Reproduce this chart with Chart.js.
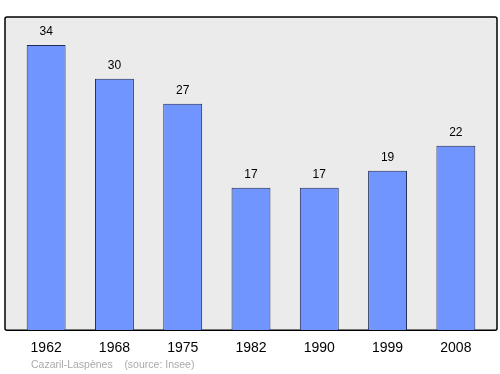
<!DOCTYPE html>
<html>
<head>
    <meta charset="utf-8">
    <title>Cazaril-Laspènes</title>
    <script src="https://cdn.jsdelivr.net/npm/chart.js"></script>
    <style>
        body { margin: 0; background: #fff; }
        #wrap { position: relative; width: 500px; height: 374px; }
        #footer {
            position: absolute; left: 31px; top: 358px;
            font: 10.5px "Liberation Sans", Arial, sans-serif; color: #aaaaaa;
            white-space: pre;
        }
    </style>
</head>
<body>
    <div id="wrap">
        <canvas id="barChart" width="500" height="374"></canvas>
        <div id="footer">Cazaril-Laspènes    (source: Insee)</div>
    </div>
    <script>
        // données
        const years = ["1962", "1968", "1975", "1982", "1990", "1999", "2008"];
        const population = [34, 30, 27, 17, 17, 19, 22];

        // fond gris + cadre
        const framePlugin = {
            id: "frame",
            beforeDraw(chart) {
                const a = chart.chartArea;
                const c = chart.ctx;
                c.save();
                c.beginPath();
                c.roundRect(a.left - 7, a.top, a.width + 14, a.bottom - a.top, 2);
                c.fillStyle = "#ebebeb";
                c.fill();
                c.lineWidth = 1.5;
                c.strokeStyle = "#000";
                c.stroke();
                c.restore();
            },
        };

        // valeurs au-dessus des barres
        const valuePlugin = {
            id: "values",
            afterDatasetsDraw(chart) {
                const c = chart.ctx;
                const meta = chart.getDatasetMeta(0);
                c.save();
                c.font = "12px 'Liberation Sans', Arial, sans-serif";
                c.fillStyle = "#000";
                c.textAlign = "center";
                c.textBaseline = "bottom";
                meta.data.forEach((bar, i) => {
                    c.fillText(population[i], bar.x, bar.y - 7);
                });
                c.restore();
            },
        };

        new Chart(document.getElementById("barChart"), {
            type: "bar",
            data: {
                labels: years,
                datasets: [{
                    data: population,
                    backgroundColor: "#7095ff",
                    borderColor: "#1f2a55",
                    borderWidth: 1,
                    barPercentage: 0.57,
                    categoryPercentage: 1,
                }],
            },
            options: {
                responsive: false,
                animation: false,
                layout: { padding: { left: 12, right: 10, top: 17, bottom: 15 } },
                plugins: { legend: { display: false }, tooltip: { enabled: false } },
                scales: {
                    x: {
                        grid: { display: false },
                        border: { display: false },
                        ticks: {
                            color: "#000",
                            padding: 2,
                            font: { family: "'Liberation Sans', Arial, sans-serif", size: 14 },
                        },
                    },
                    y: { display: false, min: 0, max: 37.35 },
                },
            },
            plugins: [framePlugin, valuePlugin],
        });
    </script>
</body>
</html>
